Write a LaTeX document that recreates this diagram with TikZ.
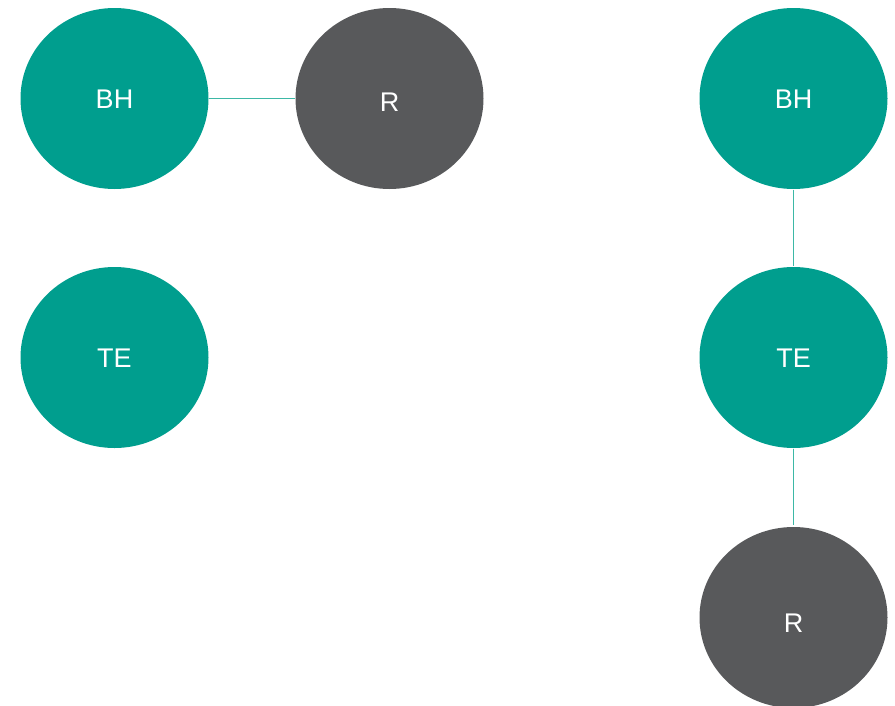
\documentclass[tikz,border=0pt]{standalone}
\usepackage{fontspec}
\setmainfont{Liberation Sans}
\usetikzlibrary{shapes.geometric}
\definecolor{teal1}{HTML}{009E8E}
\definecolor{gray1}{HTML}{58595B}
\definecolor{link}{HTML}{3DB8A6}
\begin{document}
\begin{tikzpicture}[x=1pt,y=-1pt,
  blob/.style={ellipse,minimum width=188pt,minimum height=181pt,inner sep=0pt,text=white,
    text height=19pt,text depth=0pt,font=\fontsize{27}{30}\selectfont},
  tealblob/.style={blob,fill=teal1},
  grayblob/.style={blob,fill=gray1},
  conn/.style={draw=link,line width=1.6pt}]
\useasboundingbox (0,0) rectangle (895,705);
\clip (0,0) rectangle (895,705);
\node[tealblob] (bh1) at (114.5,98.5) {BH};
\node[grayblob] (r1) at (389.5,98.5) {\raisebox{-3pt}{R}};
\node[tealblob] (te1) at (114.5,357.5) {TE};
\node[tealblob] (bh2) at (793.5,98.5) {BH};
\node[tealblob] (te2) at (793.5,357.5) {TE};
\node[grayblob] (r2) at (793.5,617.5) {\raisebox{-5pt}{R}};
\draw[conn] (bh1) -- (r1);
\draw[conn,shorten <=1pt,shorten >=1pt] (bh2) -- (te2);
\draw[conn,shorten <=1pt,shorten >=2pt] (te2) -- (r2);
\end{tikzpicture}
\end{document}
